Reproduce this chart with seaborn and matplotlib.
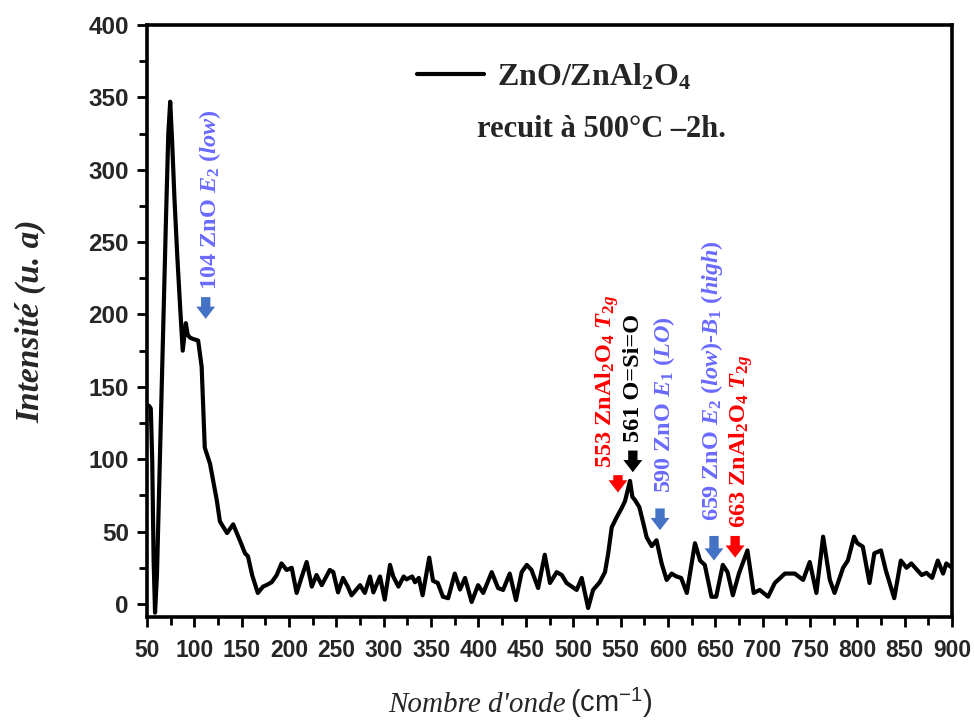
import matplotlib
matplotlib.use("Agg")
import matplotlib.pyplot as plt
from matplotlib.ticker import MultipleLocator
import seaborn as sns
import pandas as pd

# ---- data ----
wavenumber = [50, 52, 54, 55.5, 57, 58.5, 60.5, 64, 67, 70, 72.5, 74.5, 76.5, 79, 82, 85, 87.7,
              91, 93, 95.4, 99, 104, 107.7, 111, 116.5, 123.6, 127, 134.5, 141, 148, 153.5,
              156.6, 161, 167, 172.5, 176, 181.6, 187, 192, 197.5, 202.8, 208, 213, 218.6,
              224, 229, 234.5, 243, 246.7, 251.7, 257, 262, 266, 275, 280, 285.5, 289, 296,
              301, 306.6, 310, 315.5, 321, 324, 330, 333, 337, 341, 348, 352, 357, 362.5,
              368, 375, 380.5, 385.8, 392.8, 399.6, 405, 414, 420.7, 426, 433, 439.6, 445.6,
              451, 456, 463, 470, 475.5, 482.6, 488, 493, 498.5, 503.7, 509, 515.8, 521,
              528, 533.6, 537, 540.7, 546, 551, 554.7, 560, 562.5, 565, 569.8, 574, 577.6,
              582.9, 588, 593.4, 598.7, 604, 609, 614, 620, 628.6, 634, 639, 646, 651, 658,
              663, 668.6, 675, 684, 690.6, 697, 705.8, 712.9, 723.5, 734, 742.8, 749.8,
              756.8, 763.9, 771, 776, 785, 790, 796.6, 800, 805.8, 812.9, 818, 825, 830,
              839, 846, 852, 857, 868, 873, 879, 885, 890.6, 894, 900]
intensity = [137, 137, 135, 100, 30, -6, 20, 110, 190, 265, 325, 347, 320, 280, 240, 205, 175,
             194, 186, 184, 183, 182, 164, 108, 97, 72, 57, 49, 55, 44, 35,
             33, 20, 7.6, 12, 13, 15, 20, 28, 23.5, 25, 7.6, 18, 29,
             12, 20, 13, 23.5, 22, 8, 18, 12, 6, 13, 7.6, 19, 8, 19,
             3, 27, 19, 12, 19, 17, 19, 15, 18, 6, 32, 16, 14.5, 5,
             4, 21, 10, 18, 1.4, 13, 7.6, 22, 11, 9.7, 21, 2.7, 22,
             27, 23.5, 11, 34, 14.5, 22, 20, 14.5, 12, 9.7, 18, -2.8, 9.7,
             15, 22, 35, 53, 60, 66, 71, 85, 74, 72, 67, 56, 46,
             40, 44, 28, 16.6, 21, 19, 18, 7.6, 42, 30, 27, 5, 5, 27,
             22, 6, 21, 37, 7.6, 9.7, 5, 14.5, 21, 21, 16.6, 29,
             7.6, 46.5, 16.6, 7.6, 25, 30, 46.5, 42, 39.6, 14.5, 35, 37, 23.5,
             4, 30, 25, 28, 20, 21.5, 18, 30, 21, 28, 25]

series_label = r"ZnO/ZnAl$_2$O$_4$"
subtitle = "recuit à 500°C –2h."
x_ticks = list(range(50, 901, 50))
y_ticks = list(range(0, 401, 50))

# annotations: text, colour, text x, text bottom y, arrow x, arrow tail y, arrow tip y, arrow colour
ann_text = [r"104 ZnO $E_2$ $\mathit{(low)}$",
            r"553 ZnAl$_2$O$_4$ $T_{2g}$",
            "561 O=Si=O",
            r"590 ZnO $E_1$ $\mathit{(LO)}$",
            r"659 ZnO $E_2$ $\mathit{(low)}$-$B_1$ $\mathit{(high)}$",
            r"663 ZnAl$_2$O$_4$ $T_{2g}$"]
ann_color = ["#6A6AFF", "#FF0000", "#000000", "#6A6AFF", "#6A6AFF", "#FF0000"]
ann_x = [116.5, 536, 563.5, 596, 646.6, 677.5]
ann_y = [217, 94, 112, 77, 57, 52.5]
arr_x = [112, 547.3, 563, 591.7, 648.7, 671]
arr_tail = [212, 89, 106, 66, 47, 47]
arr_tip = [197, 77, 91, 51, 30, 32]
arr_color = ["#4472C4", "#FF0000", "#000000", "#4472C4", "#4472C4", "#FF0000"]

# ---- style ----
sns.set_theme(style="ticks")
plt.rcParams["font.family"] = ["Liberation Serif", "DejaVu Sans"]
plt.rcParams["mathtext.fontset"] = "custom"
plt.rcParams["mathtext.rm"] = "Liberation Serif:bold"
plt.rcParams["mathtext.it"] = "Liberation Serif:italic:bold"
plt.rcParams["mathtext.bf"] = "Liberation Serif:bold"

fig = plt.figure(figsize=(9.74, 7.25), dpi=100)
ax = fig.add_axes([147 / 974, 1 - 617 / 725, 805 / 974, 592 / 725])

df = pd.DataFrame({"x": wavenumber, "y": intensity})
sns.lineplot(data=df, x="x", y="y", ax=ax, color="black", linewidth=3.0,
             label=series_label, sort=False)

ax.set_xlim(50, 900)
ax.set_ylim(-9, 400)
ax.set_xticks(x_ticks)
ax.set_yticks(y_ticks)
ax.xaxis.set_minor_locator(MultipleLocator(25))
ax.yaxis.set_minor_locator(MultipleLocator(25))
ax.tick_params(axis="both", which="major", direction="out", length=7, width=2, color="black")
ax.tick_params(axis="both", which="minor", direction="out", length=6, width=2, color="black")
for s in ax.spines.values():
    s.set_linewidth(2.6)
    s.set_color("black")
    s.set_visible(True)

for lab in ax.get_yticklabels():
    lab.set_fontfamily(["Liberation Sans"])
    lab.set_fontweight("bold")
    lab.set_fontsize(17.5)
for lab in ax.get_xticklabels():
    lab.set_fontfamily(["Liberation Sans"])
    lab.set_fontweight("bold")
    lab.set_fontsize(16.5)
ax.tick_params(axis="x", pad=9)
ax.tick_params(axis="y", pad=6)

ax.set_xlabel("")
ax.set_ylabel("Intensité (u. a)", fontsize=24, fontstyle="italic", fontweight="bold",
              family=["Liberation Serif"])
ax.yaxis.set_label_coords(-(147 - 46) / 805, 0.5)

fig.text(566 / 974, 1 - 712 / 725, "Nombre d'onde", fontsize=21, fontstyle="italic",
         family=["Liberation Serif"], ha="right", va="baseline")
fig.text(570 / 974, 1 - 712 / 725, r"(cm$^{\mathregular{-1}}$)", fontsize=21,
         family=["Liberation Sans"], ha="left", va="baseline")

leg = ax.legend(loc="center left", bbox_to_anchor=(0.30, 0.912), frameon=False,
                handlelength=2.1, handletextpad=0.4,
                prop={"family": "Liberation Serif", "weight": "bold", "size": 23})
ax.text(0.565, 0.823, subtitle, transform=ax.transAxes, ha="center", va="center",
        fontsize=22, fontweight="bold", family=["Liberation Serif"])

for t, c, x, y in zip(ann_text, ann_color, ann_x, ann_y):
    ax.text(x, y, t, color=c, rotation=90, ha="center", va="bottom", fontsize=17.5,
            fontweight="bold", family=["Liberation Serif"])
for x, y0, y1, c in zip(arr_x, arr_tail, arr_tip, arr_color):
    ax.annotate("", xy=(x, y1), xytext=(x, y0),
                arrowprops=dict(arrowstyle="simple,head_length=0.55,head_width=0.85,tail_width=0.42",
                                color=c, lw=0, shrinkA=0, shrinkB=0, mutation_scale=16))

fig.savefig("out.png", dpi=100)
